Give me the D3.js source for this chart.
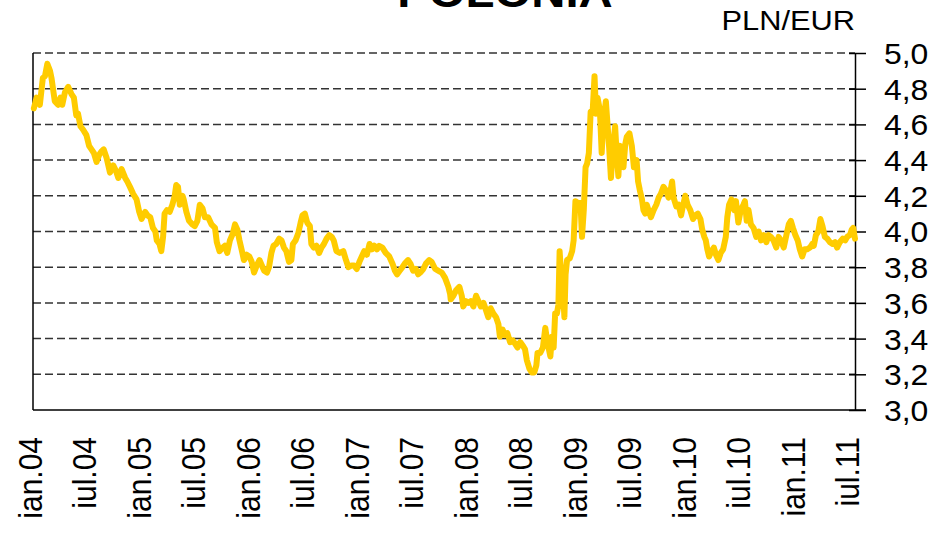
<!DOCTYPE html>
<html><head><meta charset="utf-8">
<script src="https://cdn.jsdelivr.net/npm/d3@7"></script>
<style>body{margin:0;background:#fff} svg{display:block}</style>
</head><body>
<svg id="chart" width="948" height="534"></svg>
<script>
const title = "POLONIA";
const unitLabel = "PLN/EUR";
const dates = [
"2004-01-04","2004-01-13","2004-01-24","2004-02-03","2004-02-10","2004-02-18","2004-02-27","2004-03-03","2004-03-08","2004-03-14","2004-03-25","2004-04-02","2004-04-08","2004-04-17","2004-04-28","2004-05-09","2004-05-17","2004-05-25","2004-05-31","2004-06-08","2004-06-17","2004-06-28","2004-07-07","2004-07-15","2004-07-23","2004-08-01","2004-08-10","2004-08-18","2004-08-25","2004-09-04","2004-09-15","2004-09-26","2004-10-05","2004-10-13","2004-10-24","2004-11-05","2004-11-12","2004-11-21","2004-12-02","2004-12-13","2004-12-22","2004-12-30",
"2005-01-11","2005-01-19","2005-01-28","2005-02-06","2005-02-14","2005-02-19","2005-02-28","2005-03-06","2005-03-12","2005-03-17","2005-03-25","2005-04-03","2005-04-12","2005-04-20","2005-04-25","2005-05-01","2005-05-07","2005-05-16","2005-05-20","2005-05-29","2005-06-07","2005-06-18","2005-06-26","2005-07-05","2005-07-13","2005-07-22","2005-07-30","2005-08-10","2005-08-21","2005-09-02","2005-09-08","2005-09-17","2005-09-28","2005-10-05","2005-10-13","2005-10-22","2005-11-01","2005-11-08","2005-11-16","2005-11-23","2005-11-30","2005-12-08","2005-12-17","2005-12-26",
"2006-01-03","2006-01-11","2006-01-20","2006-01-29","2006-02-06","2006-02-14","2006-02-23","2006-03-02","2006-03-10","2006-03-17","2006-03-26","2006-04-05","2006-04-13","2006-04-21","2006-04-29","2006-05-08","2006-05-16","2006-05-21","2006-05-30","2006-06-08","2006-06-16","2006-06-22","2006-06-30","2006-07-08","2006-07-17","2006-07-22","2006-07-30","2006-08-08","2006-08-17","2006-08-25","2006-09-02","2006-09-11","2006-09-20","2006-09-28","2006-10-05","2006-10-14","2006-10-25","2006-11-06","2006-11-15","2006-11-23","2006-12-04","2006-12-12","2006-12-21","2006-12-30",
"2007-01-07","2007-01-15","2007-01-24","2007-02-02","2007-02-10","2007-02-18","2007-02-27","2007-03-06","2007-03-17","2007-03-28","2007-04-09","2007-04-20","2007-04-28","2007-05-05","2007-05-14","2007-05-23","2007-05-31","2007-06-11","2007-06-19","2007-06-28","2007-07-07","2007-07-15","2007-07-22","2007-08-01","2007-08-10","2007-08-21","2007-08-29","2007-09-10","2007-09-21","2007-10-02","2007-10-13","2007-10-24","2007-10-30","2007-11-01","2007-11-10","2007-11-19","2007-11-30","2007-12-08","2007-12-13","2007-12-22","2007-12-30",
"2008-01-07","2008-01-16","2008-01-25","2008-02-02","2008-02-10","2008-02-19","2008-02-27","2008-03-06","2008-03-14","2008-03-23","2008-04-01","2008-04-09","2008-04-14","2008-04-23","2008-05-01","2008-05-09","2008-05-18","2008-05-27","2008-06-04","2008-06-12","2008-06-21","2008-06-30","2008-07-07","2008-07-13","2008-07-22","2008-07-30","2008-08-07","2008-08-14","2008-08-18","2008-08-27","2008-09-05","2008-09-13","2008-09-19","2008-09-24","2008-09-30","2008-10-05","2008-10-11","2008-10-16","2008-10-22","2008-10-27","2008-10-31","2008-11-05","2008-11-12","2008-11-16","2008-11-20","2008-11-25","2008-12-04","2008-12-12","2008-12-17","2008-12-23","2008-12-31",
"2009-01-09","2009-01-14","2009-01-20","2009-01-26","2009-01-31","2009-02-06","2009-02-12","2009-02-19","2009-02-25","2009-03-02","2009-03-07","2009-03-15","2009-03-21","2009-03-26","2009-04-04","2009-04-10","2009-04-15","2009-04-21","2009-04-29","2009-05-05","2009-05-10","2009-05-16","2009-05-21","2009-05-27","2009-06-02","2009-06-08","2009-06-13","2009-06-22","2009-06-30","2009-07-07","2009-07-16","2009-07-21","2009-07-27","2009-08-03","2009-08-08","2009-08-14","2009-08-19","2009-08-25","2009-09-02","2009-09-11","2009-09-20","2009-09-28","2009-10-05","2009-10-14","2009-10-23","2009-10-31","2009-11-06","2009-11-12","2009-11-17","2009-11-26","2009-12-04","2009-12-12","2009-12-18","2009-12-26",
"2010-01-03","2010-01-12","2010-01-21","2010-01-29","2010-02-06","2010-02-15","2010-02-21","2010-02-28","2010-03-05","2010-03-10","2010-03-16","2010-03-24","2010-04-01","2010-04-08","2010-04-16","2010-04-24","2010-05-02","2010-05-11","2010-05-16","2010-05-22","2010-05-30","2010-06-08","2010-06-14","2010-06-22","2010-06-30","2010-07-09","2010-07-14","2010-07-20","2010-07-26","2010-08-03","2010-08-12","2010-08-21","2010-08-29","2010-09-06","2010-09-15","2010-09-24","2010-10-01","2010-10-09","2010-10-18","2010-10-27","2010-11-04","2010-11-12","2010-11-21","2010-11-30","2010-12-08","2010-12-15","2010-12-22","2010-12-30",
"2011-01-07","2011-01-14","2011-01-22","2011-01-30","2011-02-08","2011-02-17","2011-02-25","2011-03-02","2011-03-09","2011-03-17","2011-03-24","2011-03-31","2011-04-08","2011-04-16","2011-04-25","2011-05-04","2011-05-12","2011-05-19","2011-05-28","2011-06-07","2011-06-15","2011-06-22","2011-07-01","2011-07-07","2011-07-12","2011-07-18"
];
const rates = [
4.69,4.75,4.71,4.86,4.87,4.94,4.90,4.86,4.80,4.73,4.71,4.75,4.71,4.78,4.81,4.77,4.75,4.65,4.66,4.59,4.57,4.54,4.48,4.46,4.44,4.39,4.43,4.45,4.46,4.41,4.33,4.37,4.34,4.30,4.35,4.30,4.28,4.25,4.21,4.18,4.11,4.07,
4.11,4.09,4.08,4.02,4.00,3.95,3.93,3.89,3.97,4.10,4.12,4.11,4.15,4.20,4.26,4.25,4.15,4.20,4.18,4.11,4.06,4.04,4.03,4.06,4.15,4.13,4.08,4.08,4.04,4.02,3.94,3.89,3.91,3.92,3.88,3.95,3.99,4.04,4.01,3.95,3.90,3.84,3.87,3.86,
3.83,3.77,3.81,3.84,3.81,3.78,3.77,3.80,3.88,3.92,3.93,3.96,3.95,3.91,3.89,3.83,3.84,3.93,3.95,3.99,4.05,4.09,4.10,4.05,4.03,3.93,3.91,3.92,3.88,3.91,3.93,3.96,3.98,3.97,3.95,3.89,3.88,3.89,3.84,3.80,3.81,3.81,3.79,3.83,
3.86,3.89,3.87,3.93,3.90,3.92,3.90,3.92,3.91,3.88,3.86,3.82,3.78,3.76,3.78,3.80,3.82,3.84,3.82,3.78,3.79,3.76,3.77,3.79,3.82,3.84,3.83,3.79,3.78,3.77,3.74,3.69,3.65,3.62,3.64,3.67,3.69,3.64,3.58,3.61,3.60,
3.61,3.58,3.64,3.61,3.58,3.60,3.56,3.52,3.57,3.54,3.52,3.48,3.41,3.45,3.42,3.43,3.38,3.39,3.37,3.35,3.38,3.36,3.34,3.28,3.23,3.21,3.21,3.25,3.32,3.32,3.35,3.46,3.39,3.35,3.30,3.41,3.35,3.54,3.54,3.59,3.89,3.76,3.65,3.52,3.76,3.84,3.85,3.89,3.95,4.17,4.16,
4.16,3.97,4.12,4.36,4.38,4.44,4.67,4.68,4.87,4.66,4.75,4.68,4.44,4.60,4.73,4.59,4.47,4.30,4.49,4.59,4.44,4.31,4.48,4.42,4.36,4.49,4.53,4.55,4.48,4.36,4.40,4.28,4.23,4.18,4.12,4.10,4.15,4.12,4.08,4.12,4.15,4.19,4.21,4.25,4.23,4.19,4.22,4.28,4.19,4.14,4.15,4.09,4.14,4.20,
4.15,4.12,4.07,4.09,4.10,4.07,4.01,3.97,3.95,3.90,3.86,3.89,3.91,3.87,3.84,3.88,3.90,3.97,4.08,4.15,4.18,4.12,4.17,4.05,4.12,4.15,4.17,4.06,4.12,4.04,4.02,3.97,4.00,3.95,3.98,3.94,3.98,3.97,3.95,3.91,3.97,3.95,3.91,3.98,4.04,4.06,4.02,3.98,
3.95,3.90,3.86,3.90,3.90,3.91,3.93,3.92,3.98,4.00,4.07,4.03,3.97,3.96,3.94,3.93,3.94,3.91,3.94,3.96,3.95,3.97,3.98,4.01,4.02,3.96
];
const yTicks = [3.0,3.2,3.4,3.6,3.8,4.0,4.2,4.4,4.6,4.8,5.0];
const xTickDates = ["2004-01-01","2004-07-01","2005-01-01","2005-07-01","2006-01-01","2006-07-01","2007-01-01","2007-07-01","2008-01-01","2008-07-01","2009-01-01","2009-07-01","2010-01-01","2010-07-01","2011-01-01","2011-07-01"];
const xTickLabels = ["ian.04","iul.04","ian.05","iul.05","ian.06","iul.06","ian.07","iul.07","ian.08","iul.08","ian.09","iul.09","ian.10","iul.10","ian.11","iul.11"];

const FONT = "'Liberation Sans', Arial, sans-serif";
const SX = 1.1; // horizontal stretch of the original picture's text
const svg = d3.select("#chart");
const L = 33, R = 855, T = 53, B = 410;
const x = d3.scaleUtc().domain([new Date("2004-01-01"), new Date("2011-07-18")]).range([L, R]);
const y = d3.scaleLinear().domain([3, 5]).range([B, T]);
const data = dates.map((d, i) => ({date: new Date(d), v: rates[i]}));

// gridlines
svg.append("g").selectAll("line").data(yTicks.filter(v => v > 3)).join("line")
  .attr("x1", L).attr("x2", R).attr("y1", d => y(d)).attr("y2", d => y(d))
  .attr("stroke", "#333").attr("stroke-width", 1.5).attr("stroke-dasharray", "8,4");

// left & bottom borders
svg.append("line").attr("x1", L).attr("x2", L).attr("y1", T).attr("y2", B).attr("stroke", "#000").attr("stroke-width", 1.5);
svg.append("line").attr("x1", L).attr("x2", R + 11).attr("y1", B).attr("y2", B).attr("stroke", "#000").attr("stroke-width", 1.5);

// right axis
const yAxis = d3.axisRight(y).tickValues(yTicks)
  .tickFormat(d => d.toFixed(1).replace(".", ","))
  .tickSizeInner(11).tickSizeOuter(0).tickPadding(18);
const gy = svg.append("g").attr("transform", `translate(${R},0)`).call(yAxis);
gy.select(".domain").attr("stroke", "#000").attr("stroke-width", 1.5);
gy.selectAll(".tick line").attr("stroke", "#000").attr("stroke-width", 1.5).attr("x1", -6);
gy.selectAll(".tick text").attr("font-family", FONT).attr("font-size", 29).attr("fill", "#000")
  .attr("x", 0).attr("dy", "0.36em").attr("transform", `translate(29,0) scale(${SX},1)`);

// bottom axis labels
const xAxis = d3.axisBottom(x).tickValues(xTickDates.map(d => new Date(d)))
  .tickFormat((d, i) => xTickLabels[i]).tickSize(0).tickPadding(0);
const gx = svg.append("g").attr("transform", `translate(0,${B})`).call(xAxis);
gx.select(".domain").remove();
gx.selectAll(".tick text")
  .attr("font-family", FONT).attr("font-size", 30).attr("fill", "#000")
  .attr("text-anchor", "end")
  .attr("transform", `translate(0,27) scale(${SX},1) rotate(-90)`)
  .attr("x", 0).attr("y", 0).attr("dy", "0.26em");

// line
const line = d3.line().x(d => x(d.date)).y(d => y(d.v));
svg.append("path").datum(data).attr("d", line)
  .attr("fill", "none").attr("stroke", "#FFCC00").attr("stroke-width", 6)
  .attr("stroke-linejoin", "round").attr("stroke-linecap", "round");

// title and unit
svg.append("text").attr("transform", `translate(505,7) scale(${SX},1)`).attr("text-anchor", "middle")
  .attr("font-family", FONT).attr("font-weight", "bold").attr("font-size", 43).text(title);
svg.append("text").attr("transform", `translate(${R},30) scale(${SX},1)`).attr("text-anchor", "end")
  .attr("font-family", FONT).attr("font-size", 28).text(unitLabel);
</script>
</body></html>
